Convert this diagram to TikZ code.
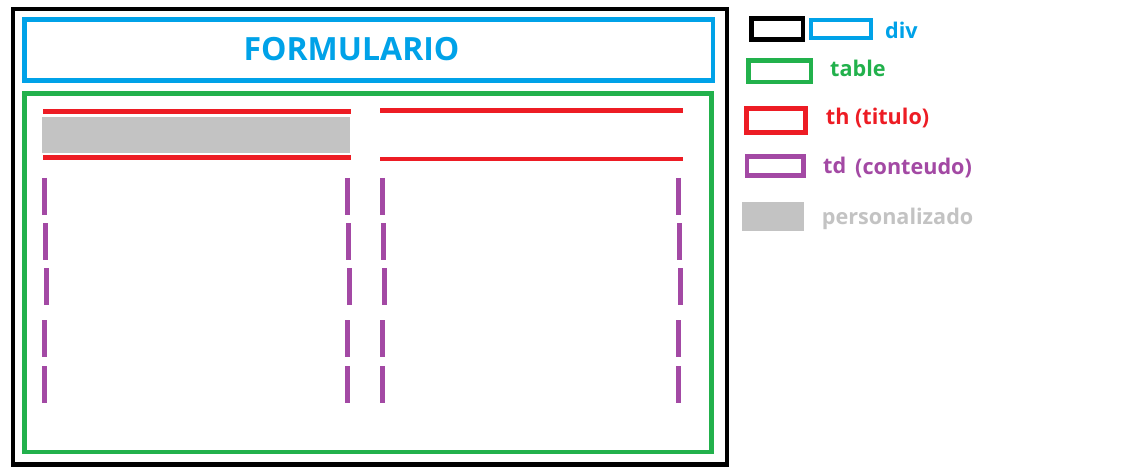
\documentclass[tikz,border=0pt]{standalone}
\usepackage{fontspec}
\setmainfont{Open Sans}
\definecolor{pblue}{HTML}{00A2E8}
\definecolor{pgreen}{HTML}{22B14C}
\definecolor{pred}{HTML}{ED1C24}
\definecolor{ppurple}{HTML}{A349A4}
\definecolor{pgray}{HTML}{C3C3C3}
\tikzset{
  divbox/.style={draw=black, line width=4.5pt},
  bluebox/.style={draw=pblue, line width=4.5pt},
  tablebox/.style={draw=pgreen, line width=4.7pt},
  thline/.style={draw=pred, line width=4.7pt},
  tdline/.style={draw=ppurple, line width=5pt, line cap=butt},
  tdbox/.style={draw=ppurple, line width=4.4pt},
  custom/.style={fill=pgray},
  legtext/.style={anchor=base west, inner sep=0pt, font=\bfseries\fontsize{21.6}{26}\selectfont},
}
\begin{document}
\begin{tikzpicture}[x=1pt,y=-1pt]
\useasboundingbox[fill=white] (0,0) rectangle (1137,473);
% main frames
\draw[divbox] (13,9) rectangle (727,464.5);
\draw[bluebox] (24.3,19.3) rectangle (713,80.3);
\node[text=pblue, font=\bfseries\fontsize{32}{38}\selectfont, inner sep=0pt] (title) at (351.5,49) {FORMULARIO};
\draw[tablebox] (24.3,93.3) rectangle (711.5,452);
% left column header
\fill[custom] (42,117) rectangle (350,152.7);
\draw[thline] (43,111.3) -- (351,111.3);
\draw[thline] (43,157.2) -- (351,157.2);
% right column header
\draw[thline] (380,110.5) -- (683,110.5);
\draw[thline] (380,159) -- (683,159);
% td dashes
\foreach \ya/\yb/\dx in {178/215/0, 223/260/1, 268/305/2, 320/357/0, 366/403/0}{
  \draw[tdline] (44.5+\dx,\ya) -- (44.5+\dx,\yb);
  \draw[tdline] (347.5+\dx,\ya) -- (347.5+\dx,\yb);
  \draw[tdline] (382.5+\dx,\ya) -- (382.5+\dx,\yb);
  \draw[tdline] (678.5+\dx,\ya) -- (678.5+\dx,\yb);
}
% legend
\draw[divbox] (751.5,18.5) rectangle (803,39.5);
\draw[bluebox, line width=4pt] (811,20.5) rectangle (870.5,38.5);
\node[legtext, text=pblue] (ldiv) at (885,38.3) {div};
\draw[tablebox] (748.3,60.3) rectangle (811,82);
\node[legtext, text=pgreen] (ltable) at (830,76.7) {table};
\draw[thline] (746.3,108.3) rectangle (805.3,132.3);
\node[legtext, text=pred] (lth) at (825.7,124.5) {th (titulo)};
\draw[tdbox] (747.2,156.5) rectangle (803.5,175.5);
\node[legtext, text=ppurple] (ltd) at (823,173.3) {td};
\node[legtext, text=ppurple] (lcont) at (855,175) {(conteudo)};
\fill[custom] (742,201.7) rectangle (803.7,230.7);
\node[legtext, text=pgray] (lpers) at (821.7,224) {personalizado};
\end{tikzpicture}
\end{document}
